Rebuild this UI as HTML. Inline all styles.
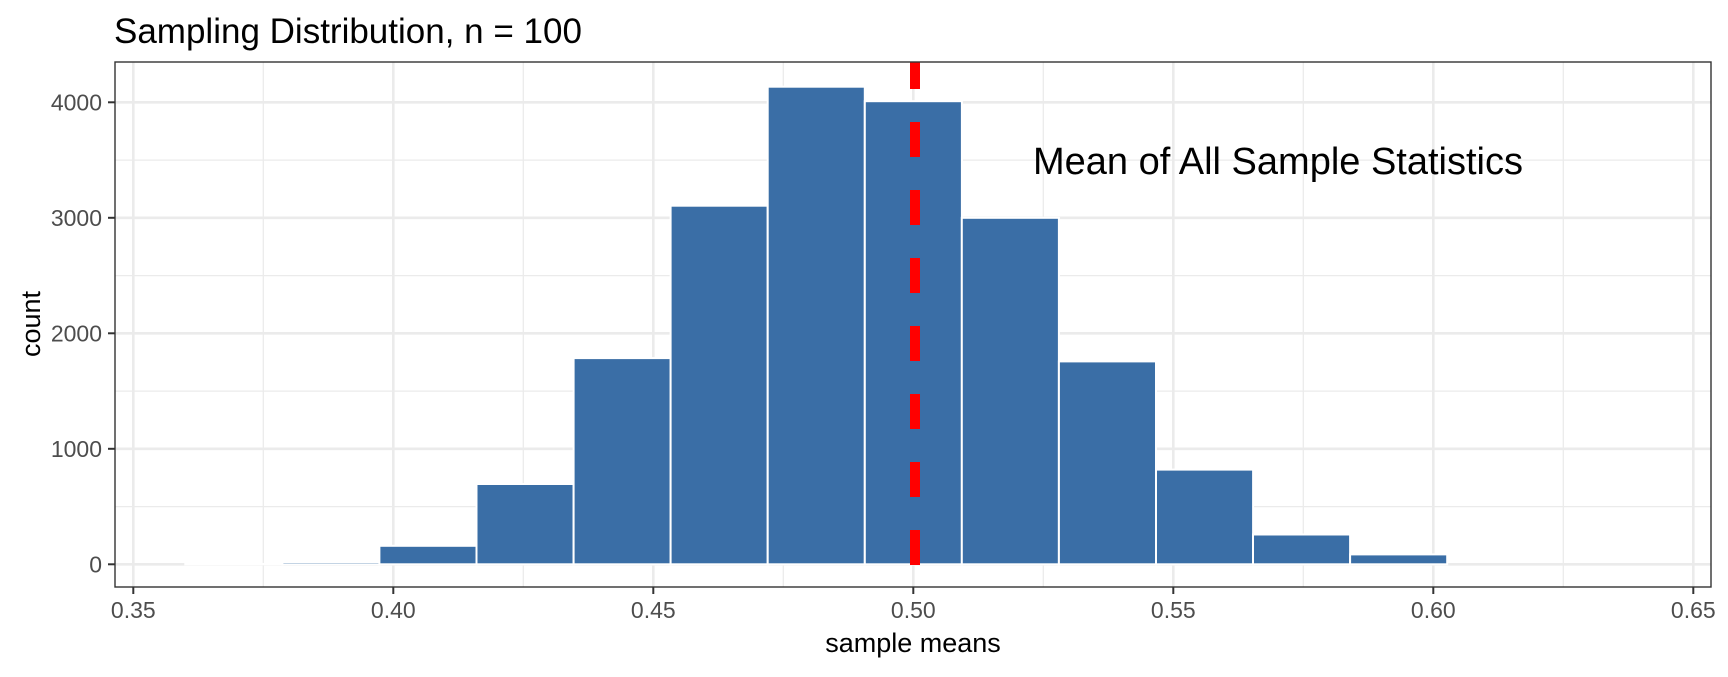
<!DOCTYPE html>
<html><head><meta charset="utf-8"><style>body{margin:0;background:#fff}</style></head><body>
<svg width="1728" height="672" xmlns="http://www.w3.org/2000/svg" font-family="Liberation Sans, sans-serif">
<rect width="1728" height="672" fill="#fff"/>
<g stroke="#ebebeb" stroke-width="1.3">
<line x1="115" x2="1711" y1="506.6" y2="506.6"/><line x1="115" x2="1711" y1="391.1" y2="391.1"/><line x1="115" x2="1711" y1="275.6" y2="275.6"/><line x1="115" x2="1711" y1="160.1" y2="160.1"/>
<line x1="263.3" x2="263.3" y1="62" y2="587"/><line x1="523.3" x2="523.3" y1="62" y2="587"/><line x1="783.3" x2="783.3" y1="62" y2="587"/><line x1="1043.3" x2="1043.3" y1="62" y2="587"/><line x1="1303.3" x2="1303.3" y1="62" y2="587"/><line x1="1563.3" x2="1563.3" y1="62" y2="587"/>
</g>
<g stroke="#ebebeb" stroke-width="2.6">
<line x1="115" x2="1711" y1="564.3" y2="564.3"/><line x1="115" x2="1711" y1="448.8" y2="448.8"/><line x1="115" x2="1711" y1="333.3" y2="333.3"/><line x1="115" x2="1711" y1="217.8" y2="217.8"/><line x1="115" x2="1711" y1="102.3" y2="102.3"/>
<line x1="133.3" x2="133.3" y1="62" y2="587"/><line x1="393.3" x2="393.3" y1="62" y2="587"/><line x1="653.3" x2="653.3" y1="62" y2="587"/><line x1="913.3" x2="913.3" y1="62" y2="587"/><line x1="1173.3" x2="1173.3" y1="62" y2="587"/><line x1="1433.3" x2="1433.3" y1="62" y2="587"/><line x1="1693.3" x2="1693.3" y1="62" y2="587"/>
</g>
<g fill="#3a6ea6" stroke="#fff" stroke-width="2">
<rect x="185.3" y="564" width="97.1" height="0.3"/>
<rect x="282.4" y="562" width="97.1" height="2.3"/>
<rect x="379.4" y="545.8" width="97.1" height="18.5"/>
<rect x="476.5" y="484.0" width="97.1" height="80.3"/>
<rect x="573.6" y="358.1" width="97.1" height="206.2"/>
<rect x="670.6" y="205.7" width="97.1" height="358.6"/>
<rect x="767.7" y="86.7" width="97.1" height="477.6"/>
<rect x="864.8" y="101.2" width="97.1" height="463.1"/>
<rect x="961.8" y="217.8" width="97.1" height="346.5"/>
<rect x="1058.9" y="361.4" width="97.1" height="202.9"/>
<rect x="1156" y="469.6" width="97.1" height="94.7"/>
<rect x="1253" y="534.5" width="97.1" height="29.8"/>
<rect x="1350.1" y="554.4" width="97.1" height="9.9"/>
</g>
<line x1="915" x2="915" y1="565" y2="62" stroke="#ff0000" stroke-width="10" stroke-dasharray="35 33"/>
<rect x="115" y="62" width="1596" height="525" fill="none" stroke="#333" stroke-width="1.4"/>
<g stroke="#333" stroke-width="2">
<line x1="108" x2="115" y1="564.3" y2="564.3"/><line x1="108" x2="115" y1="448.8" y2="448.8"/><line x1="108" x2="115" y1="333.3" y2="333.3"/><line x1="108" x2="115" y1="217.8" y2="217.8"/><line x1="108" x2="115" y1="102.3" y2="102.3"/>
<line x1="133.3" x2="133.3" y1="587" y2="594"/><line x1="393.3" x2="393.3" y1="587" y2="594"/><line x1="653.3" x2="653.3" y1="587" y2="594"/><line x1="913.3" x2="913.3" y1="587" y2="594"/><line x1="1173.3" x2="1173.3" y1="587" y2="594"/><line x1="1433.3" x2="1433.3" y1="587" y2="594"/><line x1="1693.3" x2="1693.3" y1="587" y2="594"/>
</g>
<g fill="#4d4d4d" font-size="23" text-anchor="end">
<text x="102" y="572.5">0</text><text x="102" y="457">1000</text><text x="102" y="341.5">2000</text><text x="102" y="226">3000</text><text x="102" y="110.5">4000</text>
</g>
<g fill="#4d4d4d" font-size="23" text-anchor="middle">
<text x="133.3" y="618">0.35</text><text x="393.3" y="618">0.40</text><text x="653.3" y="618">0.45</text><text x="913.3" y="618">0.50</text><text x="1173.3" y="618">0.55</text><text x="1433.3" y="618">0.60</text><text x="1693.3" y="618">0.65</text>
</g>
<text x="913" y="652" font-size="27" text-anchor="middle">sample means</text>
<text transform="translate(40,324) rotate(-90)" font-size="27" text-anchor="middle">count</text>
<text x="114" y="43" font-size="35">Sampling Distribution, n = 100</text>
<text x="1033" y="174" font-size="38">Mean of All Sample Statistics</text>
</svg>
</body></html>
